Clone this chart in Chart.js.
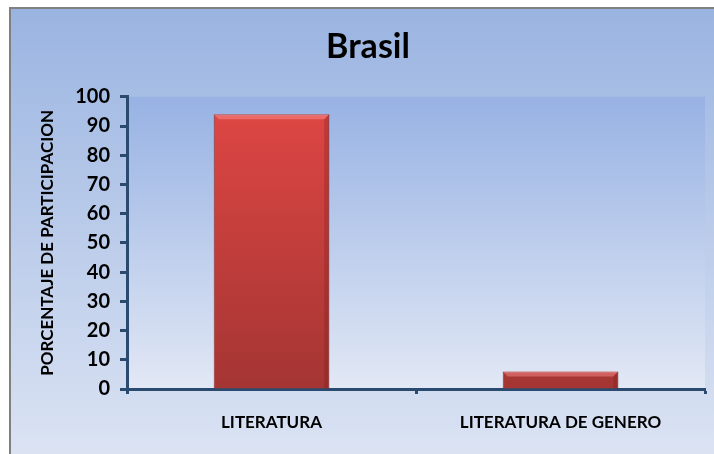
<!DOCTYPE html>
<html>
<head>
<meta charset="utf-8">
<script src="https://cdn.jsdelivr.net/npm/chart.js@4.4.1/dist/chart.umd.min.js"></script>
<style>
  html, body { margin: 0; padding: 0; background: #fff; }
  #wrap { width: 714px; height: 454px; }
</style>
</head>
<body>
<div id="wrap"><canvas id="myChart" width="714" height="454"></canvas></div>
<script>
const ctx = document.getElementById('myChart');

// data
const categories = ['LITERATURA', 'LITERATURA DE GENERO'];
const values = [94, 6];
const yTicks = [0, 10, 20, 30, 40, 50, 60, 70, 80, 90, 100];

const axisColor = '#2b4a6f';
const fontFam = 'Lato, "Open Sans", sans-serif';

// page box + plot area backgrounds
const bgPlugin = {
    id: 'bgPlugin',
    beforeDraw(chart) {
        const c = chart.ctx;
        const { width, height, chartArea } = chart;
        c.save();
        c.fillStyle = '#ffffff';
        c.fillRect(0, 0, width, height);
        let g = c.createLinearGradient(0, 9, 0, height);
        g.addColorStop(0, '#9ab4e1');
        g.addColorStop(1, '#dbe3f3');
        c.fillStyle = g;
        c.fillRect(11, 9, width - 11, height - 9);
        // gray frame top/left
        c.fillStyle = '#808080';
        c.fillRect(9, 7, width - 9, 2);
        c.fillRect(9, 7, 2, height - 7);
        // plot area
        g = c.createLinearGradient(0, chartArea.top, 0, chartArea.bottom);
        g.addColorStop(0, '#97b2e3');
        g.addColorStop(1, '#e2e8f5');
        c.fillStyle = g;
        c.fillRect(chartArea.left, chartArea.top, chartArea.right - chartArea.left, chartArea.bottom - chartArea.top);
        c.restore();
    }
};

// small bevel on the bars
const bevelPlugin = {
    id: 'bevelPlugin',
    afterDatasetsDraw(chart) {
        const c = chart.ctx;
        chart.getDatasetMeta(0).data.forEach(bar => {
            const w = bar.width;
            const l = bar.x - w / 2, r = bar.x + w / 2;
            const t = bar.y, b = bar.base;
            const e = Math.min(5, (b - t) / 2);
            c.save();
            c.fillStyle = 'rgba(255,150,150,0.45)';
            c.beginPath();
            c.moveTo(l, t); c.lineTo(r, t); c.lineTo(r - e, t + e); c.lineTo(l + e, t + e); c.closePath();
            c.fill();
            c.fillStyle = 'rgba(110,20,20,0.25)';
            c.beginPath();
            c.moveTo(r, t); c.lineTo(r, b); c.lineTo(r - e, b); c.lineTo(r - e, t + e); c.closePath();
            c.fill();
            c.restore();
        });
    }
};

function barGradient(context) {
    const area = context.chart.chartArea;
    if (!area) return '#d0403c';
    const g = context.chart.ctx.createLinearGradient(0, area.top, 0, area.bottom);
    g.addColorStop(0, '#e04744');
    g.addColorStop(1, '#a43533');
    return g;
}

let chart = new Chart(ctx, {
    type: 'bar',
    plugins: [bgPlugin, bevelPlugin],
    data: {
        labels: categories,
        datasets: [{
            data: values,
            backgroundColor: barGradient,
            borderColor: '#8e2a28',
            borderWidth: 1,
            categoryPercentage: 0.8,
            barPercentage: 0.5
        }]
    },
    options: {
        responsive: false,
        animation: false,
        layout: { padding: { left: 31, right: 9, top: 9, bottom: 0 } },
        plugins: {
            legend: { display: false },
            tooltip: { enabled: false },
            title: {
                display: true,
                text: 'Brasil',
                color: '#000',
                font: { family: fontFam, size: 34, weight: 'bold' },
                padding: { top: 18, bottom: 29 }
            }
        },
        scales: {
            x: {
                grid: {
                    display: true,
                    drawOnChartArea: false,
                    drawTicks: true,
                    tickLength: 5,
                    tickWidth: 3,
                    tickColor: axisColor,
                    offset: true
                },
                border: { display: true, color: axisColor, width: 3 },
                ticks: {
                    color: '#000',
                    padding: 18,
                    font: { family: fontFam, size: 17, weight: 'bold' }
                },
                afterFit(scale) { scale.height = 65; }
            },
            y: {
                min: 0,
                max: 100,
                afterBuildTicks(scale) { scale.ticks = yTicks.map(v => ({ value: v })); },
                grid: {
                    display: true,
                    drawOnChartArea: false,
                    tickLength: 7,
                    tickWidth: 3,
                    tickColor: axisColor
                },
                border: { display: true, color: axisColor, width: 3 },
                ticks: {
                    color: '#000',
                    padding: 10,
                    font: { family: fontFam, size: 20, weight: 'bold' }
                },
                title: {
                    display: true,
                    text: 'PORCENTAJE DE PARTICIPACION',
                    color: '#000',
                    font: { family: fontFam, size: 17, weight: 'bold' },
                    padding: { top: 6, bottom: 0 }
                },
                afterFit(scale) { scale.width = 96; }
            }
        }
    }
});
</script>
</body>
</html>
